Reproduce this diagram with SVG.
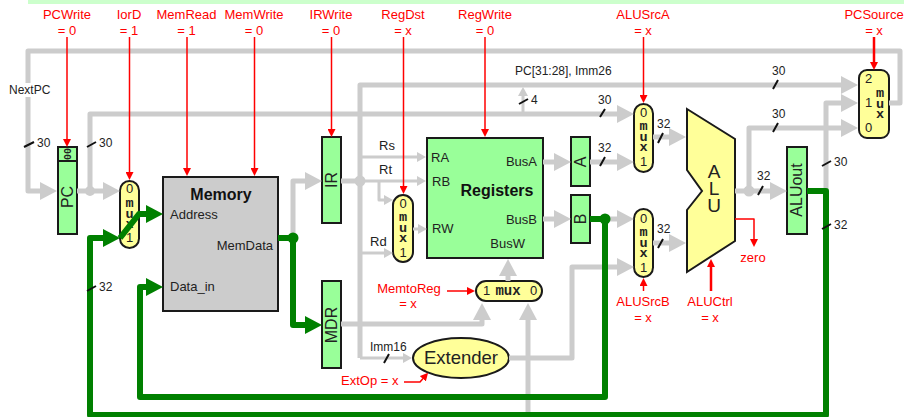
<svg xmlns="http://www.w3.org/2000/svg" width="904" height="417" viewBox="0 0 904 417">
<style>
text{font-family:"Liberation Sans",Arial,sans-serif;font-size:13px;fill:#222}
.n{font-size:12px}
.box{stroke:#1a1a1a;stroke-width:2}
.g{fill:#99ff99}.y{fill:#ffff99}.m{fill:#cccccc}
.c{text-anchor:middle}
.e{text-anchor:end}
.r{fill:#ff0000}
.rv{font-size:16px;text-anchor:middle}
.b{font-size:16px;font-weight:bold;text-anchor:middle;fill:#111}
.mono{font-family:"Liberation Mono","Courier New",monospace;font-weight:bold;font-size:13.5px}
.vm{writing-mode:vertical-rl;text-orientation:upright;letter-spacing:-4.3px}
.va{font-size:19px;writing-mode:vertical-rl;text-orientation:upright;letter-spacing:-3.8px}
.w5,.w3,.wg,.wr,.wr2,.tk{fill:none;stroke-linejoin:round}
.w5{stroke:#cccccc;stroke-width:5}
.w3{stroke:#cccccc;stroke-width:3}
.wg{stroke:#008000;stroke-width:6}
.wr{stroke:#ff0000;stroke-width:1.5}
.wr2{stroke:#ff0000;stroke-width:2.5}
.tk{stroke:#111;stroke-width:2}
.hg{marker-end:url(#hg)}.hs{marker-end:url(#hs)}.hd{marker-end:url(#hd)}.hr{marker-end:url(#hr)}
</style>
<defs>
<marker id="hg" markerUnits="userSpaceOnUse" markerWidth="17" markerHeight="18" refX="1" refY="9" orient="auto"><path d="M0 0L17 9L0 18Z" fill="#cccccc"/></marker>
<marker id="hs" markerUnits="userSpaceOnUse" markerWidth="9" markerHeight="10" refX="1" refY="5" orient="auto"><path d="M0 0L9 5L0 10Z" fill="#cccccc"/></marker>
<marker id="hd" markerUnits="userSpaceOnUse" markerWidth="17" markerHeight="18" refX="1" refY="9" orient="auto"><path d="M0 0L17 9L0 18Z" fill="#008000"/></marker>
<marker id="hr" markerUnits="userSpaceOnUse" markerWidth="8" markerHeight="8" refX="1" refY="4" orient="auto"><path d="M0 0L8 4L0 8Z" fill="#ff0000"/></marker>
</defs>
<rect id="top-strip" x="28" y="0" width="876" height="4" fill="#ccffcc"/>

<g id="PC"><rect class="box g" x="58" y="147" width="19" height="87"/><line class="box" x1="58" y1="161" x2="77" y2="161"/>
<text class="mono c" style="font-size:10px" transform="translate(70.5,154) rotate(-90)">00</text><text class="rv" transform="translate(73,197) rotate(-90)">PC</text></g>
<g id="mux-IorD"><rect class="box y" x="120" y="181" width="19" height="67" rx="9.5"/>
<text class="c" x="129.5" y="193">0</text><text class="mono vm" x="129.5" y="196">mux</text><text class="c" x="129.5" y="242">1</text></g>
<g id="Memory"><rect class="box m" x="163" y="177" width="115" height="134"/>
<text class="b" x="221" y="200">Memory</text><text x="170" y="219">Address</text><text class="e" x="273" y="250">MemData</text><text x="170" y="291">Data_in</text></g>
<g id="IR"><rect class="box g" x="322" y="137" width="19" height="86"/><text class="rv" transform="translate(337,180) rotate(-90)">IR</text></g>
<g id="MDR"><rect class="box g" x="322" y="281" width="19" height="87"/><text class="rv" transform="translate(337,325) rotate(-90)">MDR</text></g>
<g id="mux-RegDst"><rect class="box y" x="393" y="195" width="20" height="67" rx="10"/>
<text class="c" x="403" y="208">0</text><text class="mono vm" x="403" y="210">mux</text><text class="c" x="403" y="257">1</text></g>
<g id="Registers"><rect class="box g" x="427" y="138" width="116" height="120"/>
<text x="431" y="162">RA</text><text x="432" y="186">RB</text><text x="432" y="233">RW</text><text class="e" x="537" y="166">BusA</text><text class="e" x="537" y="224">BusB</text><text class="e" x="525" y="248">BusW</text><text class="b" x="497" y="196">Registers</text></g>
<g id="A"><rect class="box g" x="571" y="137" width="19" height="49"/><text class="rv" transform="translate(586,162) rotate(-90)">A</text></g>
<g id="B"><rect class="box g" x="571" y="195" width="19" height="48"/><text class="rv" transform="translate(586,219) rotate(-90)">B</text></g>
<g id="mux-ALUSrcA"><rect class="box y" x="634" y="104" width="19" height="68" rx="9.5"/>
<text class="c" x="643.5" y="117">0</text><text class="mono vm" x="643.5" y="119">mux</text><text class="c" x="643.5" y="166">1</text></g>
<g id="mux-ALUSrcB"><rect class="box y" x="634" y="209" width="19" height="68" rx="9.5"/>
<text class="c" x="643.5" y="223">0</text><text class="mono vm" x="643.5" y="225">mux</text><text class="c" x="643.5" y="272">1</text></g>
<g id="ALU"><path class="box y" d="M687 109L735 139V241L687 272V210L702 191L687 170Z"/>
<text class="va" x="714" y="161">ALU</text></g>
<g id="ALUout"><rect class="box g" x="787" y="147" width="20" height="87"/><text class="rv" transform="translate(802,190) rotate(-90)">ALUout</text></g>
<g id="mux-PCSource"><rect class="box y" x="859" y="70" width="30" height="68" rx="8"/>
<text class="c" x="868.500" y="83">2</text><text class="c" x="868.500" y="107">1</text><text class="c" x="868.500" y="132">0</text><text class="mono vm" x="880" y="86">mux</text></g>
<g id="mux-MemtoReg"><rect class="box y" x="476" y="281" width="66" height="20" rx="10"/>
<text x="483" y="295">1</text><text class="mono c" style="font-size:14px" x="508" y="295">mux</text><text x="530" y="295">0</text></g>
<g id="Extender"><ellipse class="box y" cx="461" cy="358" rx="48" ry="20"/><text class="c" style="font-size:18.5px" x="461" y="364">Extender</text></g>

<g id="connectors">
<path class="w5 hg" d="M889 103H900V51H28V191H41"/>
<path class="w5 hg" d="M77 191H104"/>
<path class="w5 hg" d="M90 191V114H618"/>
<path class="w5 hg" d="M360 358V85H842"/>
<circle cx="90" cy="191" r="5" fill="#cccccc"/>
<path class="w5 hg" d="M293 238V181H306"/>
<path class="w5" d="M341 181H360"/>
<circle cx="360" cy="181" r="5.5" fill="#cccccc"/>
<path class="w3 hs" d="M360 157H418"/>
<path class="w3 hs" d="M360 181H418"/>
<path class="w3 hs" d="M379 181V200H385"/>
<path class="w3 hs" d="M360 253H385"/>
<path class="w3 hs" d="M413 229H419"/>
<path class="w3 hs" d="M360 358H404"/>
<path class="w3 hs" d="M523 114V95"/>
<path class="w5 hg" d="M341 324H482V319"/>
<path class="w5 hg" d="M528 415V319"/>
<path class="w5 hg" d="M508 281V275"/>
<path class="w5 hg" d="M509 358H572V267H618"/>
<path class="w5 hg" d="M543 162H555"/>
<path class="w5 hg" d="M543 219H555"/>
<path class="w5 hg" d="M590 162H618"/>
<path class="w5 hg" d="M605 219H618"/>
<path class="w5 hg" d="M653 137H670"/>
<path class="w5 hg" d="M653 243H670"/>
<path class="w5 hg" d="M735 191H771"/>
<path class="w5 hg" d="M749 191V128H842"/>
<circle cx="749" cy="191" r="5.5" fill="#cccccc"/>
<path class="w5 hg" d="M826 191V103H842"/>
<path class="wg hd" d="M807 191H826V415H90V238H104"/>
<path class="wg hd" d="M120 238L139 214H147"/>
<path class="wg hd" d="M590 219H605V397H140V287H147"/>
<circle cx="605" cy="219" r="5.5" fill="#008000"/>
<path class="wg hd" d="M278 238H293V325H306"/>
<circle cx="293" cy="238" r="5.5" fill="#008000"/>
<path class="wr hr" d="M67 37V140"/>
<path class="wr hr" d="M129.5 37V173"/>
<path class="wr hr" d="M187 37V169"/>
<path class="wr hr" d="M254.5 37V169"/>
<path class="wr hr" d="M331.5 37V130"/>
<path class="wr hr" d="M403.5 37V187"/>
<path class="wr hr" d="M485 37V130"/>
<path class="wr hr" d="M643.5 37V96"/>
<path class="wr2 hr" d="M874 37V63"/>
<path class="wr hr" d="M643.5 291V285"/>
<path class="wr2 hr" d="M711 291V266"/>
<path class="wr hr" d="M735 219H754V240"/>
<path class="wr hr" d="M447 291H468"/>
<path class="wr hr" d="M404 382H420L423.500 378"/>
<path class="tk" d="M24 147L34 142M87 147L96 142M87 291L96 286M384 363L389 354M519 104L528 99M600 117L605 109M600 166L605 157M658 143L663 133M658 248L663 239M758 195L763 186M773 89L778 80M773 132L778 123M822 166L831 161M822 229L831 224"/>
</g>

<g id="labels">
<rect x="8" y="83" width="44" height="14" fill="#fff"/>
<text class="n" x="9" y="94">NextPC</text>
<text class="n" x="37" y="147">30</text><text class="n" x="99" y="147">30</text><text class="n" x="99" y="291">32</text>
<text class="n" x="515" y="75">PC[31:28], Imm26</text><text class="n" x="531" y="104">4</text>
<text class="n" x="598" y="104">30</text><text class="n" x="598" y="152">32</text><text class="n" x="657" y="128">32</text><text class="n" x="657" y="233">32</text><text class="n" x="757" y="180">32</text>
<text class="n" x="772" y="75">30</text><text class="n" x="772" y="118">30</text><text class="n" x="834" y="166">30</text><text class="n" x="834" y="229">32</text>
<text x="379" y="150">Rs</text><text x="379" y="174">Rt</text><text x="370" y="246">Rd</text>
<text class="n" x="370" y="351">Imm16</text>
<g class="ctl">
<text class="c r" x="67" y="19">PCWrite</text><text class="c r" x="67" y="35">= 0</text>
<text class="c r" x="129" y="19">IorD</text><text class="c r" x="129" y="35">= 1</text>
<text class="c r" x="186.500" y="19">MemRead</text><text class="c r" x="186.500" y="35">= 1</text>
<text class="c r" x="254" y="19">MemWrite</text><text class="c r" x="254" y="35">= 0</text>
<text class="c r" x="331" y="19">IRWrite</text><text class="c r" x="331" y="35">= 0</text>
<text class="c r" x="403" y="19">RegDst</text><text class="c r" x="403" y="35">= x</text>
<text class="c r" x="485" y="19">RegWrite</text><text class="c r" x="485" y="35">= 0</text>
<text class="c r" x="643" y="19">ALUSrcA</text><text class="c r" x="643" y="35">= x</text>
<text class="c r" x="874" y="19">PCSource</text><text class="c r" x="874" y="35">= x</text>
<text class="c r" x="643" y="306">ALUSrcB</text><text class="c r" x="643" y="322">= x</text>
<text class="c r" x="710" y="306">ALUCtrl</text><text class="c r" x="710" y="322">= x</text>
<text class="c r" x="753" y="262">zero</text>
<text class="c r" x="409" y="293">MemtoReg</text><text class="c r" x="408" y="308">= x</text>
<text class="r" x="341" y="385">ExtOp = x</text>
</g>
</g>
</svg>
